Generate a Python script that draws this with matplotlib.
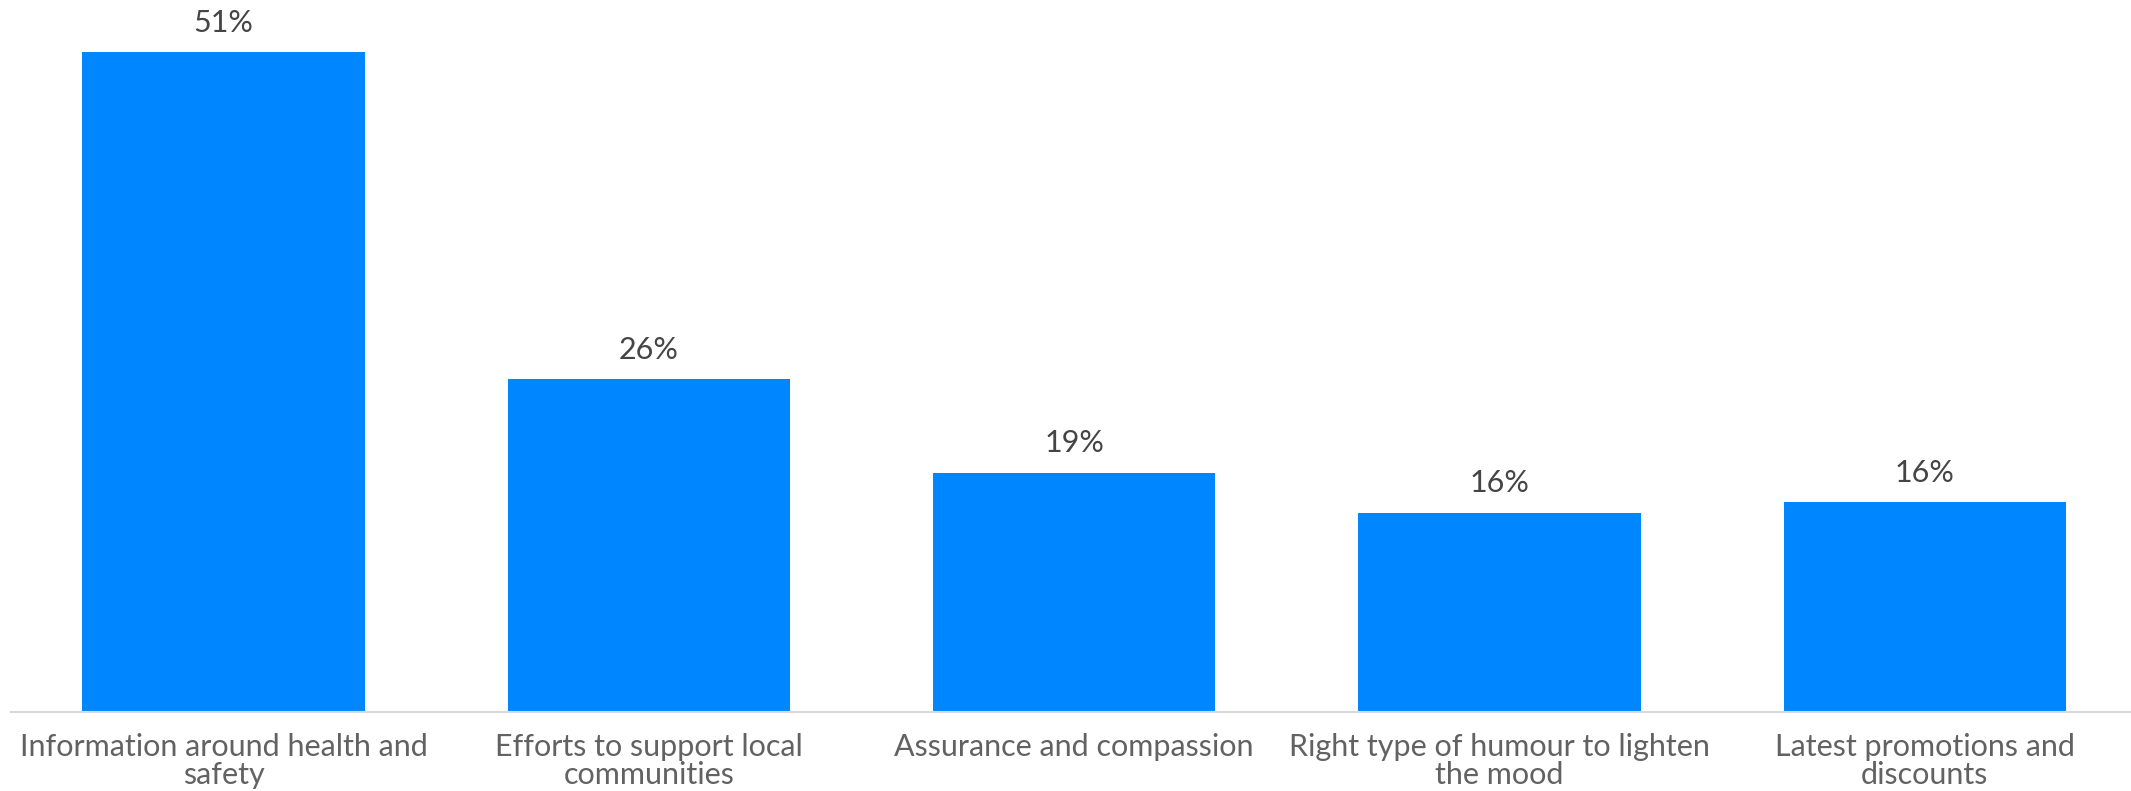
import matplotlib
matplotlib.use('Agg')
import matplotlib.pyplot as plt

categories = [
    "Information around health and\nsafety",
    "Efforts to support local\ncommunities",
    "Assurance and compassion",
    "Right type of humour to lighten\nthe mood",
    "Latest promotions and\ndiscounts",
]
values = [51.0, 25.7, 18.5, 15.4, 16.2]
value_labels = ["51%", "26%", "19%", "16%", "16%"]

plt.rcParams['font.family'] = ['Lato', 'DejaVu Sans']

fig = plt.figure(figsize=(21.31, 7.91), dpi=100)
ax = fig.add_axes([11 / 2131, 1 - 712 / 791, 1 - 11 / 2131, 712 / 791])

x = range(len(categories))
bars = ax.bar(x, values, width=0.664, color='#0087FF', edgecolor='none')

ax.bar_label(bars, labels=value_labels, padding=11, fontsize=22,
             color='#454545', fontweight='normal')

ax.set_xlim(-0.5, 4.485)
ax.set_ylim(0, 55.0)

ax.set_xticks(list(x))
ax.set_xticklabels(categories, fontsize=22, color='#626262',
                   fontweight='normal', linespacing=1.0)
ax.set_yticks([])

for side in ['top', 'right', 'left']:
    ax.spines[side].set_visible(False)
ax.spines['bottom'].set_color('#d9d9d9')
ax.spines['bottom'].set_linewidth(1.5)
ax.tick_params(axis='x', length=0, pad=15)

fig.savefig('out.png', dpi=100, facecolor='white')
plt.close()
